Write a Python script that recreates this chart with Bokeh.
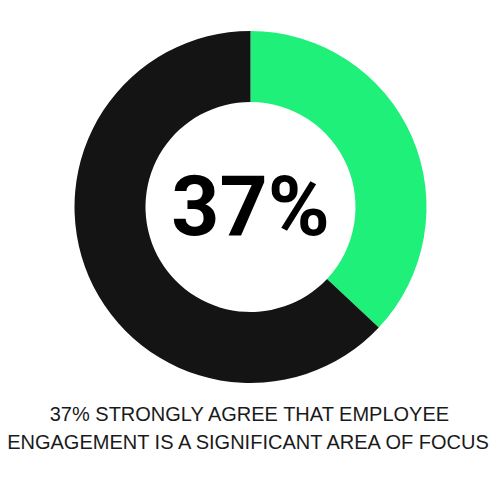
import numpy as np
from bokeh.plotting import figure
from bokeh.models import Range1d, ColumnDataSource
from bokeh.core.properties import value
from bokeh.embed import file_html
from bokeh.resources import INLINE

# data
categories = ["Strongly agree", "Other"]
values = [37, 63]
colors = ["#1EF07A", "#141414"]
caption_lines = ["37% STRONGLY AGREE THAT EMPLOYEE",
                 "ENGAGEMENT IS A SIGNIFICANT AREA OF FOCUS"]

W = H = 500
p = figure(width=W, height=H, output_backend="svg", toolbar_location=None,
           x_range=Range1d(0, W), y_range=Range1d(0, H), min_border=0)
p.axis.visible = False
p.grid.visible = False
p.outline_line_color = None
p.background_fill_color = "white"
p.border_fill_color = "white"

cx, cy = 250, H - 206.5
fr = np.array(values, dtype=float) / sum(values)
ends = np.cumsum(fr)
starts = ends - fr
start_ang = np.pi / 2 - 2 * np.pi * starts
end_ang = np.pi / 2 - 2 * np.pi * ends

src = ColumnDataSource(dict(cat=categories, start=start_ang, end=end_ang, color=colors))
p.annular_wedge(x=cx, y=cy, inner_radius=105, outer_radius=176,
                start_angle="start", end_angle="end", direction="clock",
                color="color", line_color=None, source=src)

p.text(x=[cx], y=[H - 206], text=[f"{values[0]}%"], text_font=value("Roboto"),
       text_font_style="bold", text_font_size="84px", text_align="center",
       text_baseline="middle", text_color="#000000")

p.text(x=[cx, cx], y=[H - 413, H - 441], text=caption_lines,
       text_font=value("Liberation Sans"), text_font_size="20px",
       text_align="center", text_baseline="middle", text_color="#1a1a1a")

open("out.html", "w").write(file_html(p, INLINE))
